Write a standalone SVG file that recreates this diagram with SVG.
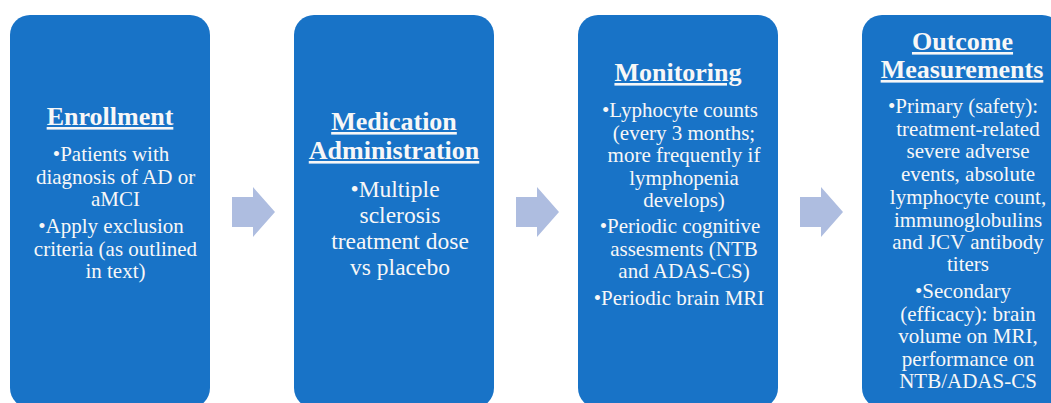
<svg xmlns="http://www.w3.org/2000/svg" width="1051" height="403" viewBox="0 0 1051 403">
<style>
.box{fill:#1873C7}
.arr{fill:#AEBDE0}
text{font-family:"Liberation Serif","Times New Roman",serif;fill:#F7F7F7;text-anchor:middle}
.t{font-weight:bold;font-size:26px;text-decoration:underline}
.b{font-size:21px}
.b2{font-size:23.5px}
</style>
<rect width="1051" height="403" fill="#FFFFFF"/>
<g id="connectors">
<path class="arr" d="M232,197 L253,197 L253,187 L275,212 L253,237 L253,227 L232,227 Z"/>
<path class="arr" d="M516,197 L537,197 L537,187 L559,212 L537,237 L537,227 L516,227 Z"/>
<path class="arr" d="M800,197 L821,197 L821,187 L843,212 L821,237 L821,227 L800,227 Z"/>
</g>
<g id="enrollment">
<rect class="box" x="10" y="15" width="200" height="393" rx="20" ry="20"/>
<text class="t" x="110" y="125">Enrollment</text>
<text class="b" x="111" y="161">•Patients with</text>
<text class="b" x="115.5" y="183.5">diagnosis of AD or</text>
<text class="b" x="115.5" y="205.5">aMCI</text>
<text class="b" x="111" y="233">•Apply exclusion</text>
<text class="b" x="115.5" y="255.5">criteria (as outlined</text>
<text class="b" x="115.5" y="278">in text)</text>
</g>
<g id="medication">
<rect class="box" x="294" y="15" width="200" height="393" rx="20" ry="20"/>
<text class="t" x="394" y="130">Medication</text>
<text class="t" x="394" y="159">Administration</text>
<text class="b2" x="395" y="197">•Multiple</text>
<text class="b2" x="400" y="223">sclerosis</text>
<text class="b2" x="400" y="249">treatment dose</text>
<text class="b2" x="400" y="275">vs placebo</text>
</g>
<g id="monitoring">
<rect class="box" x="578" y="15" width="200" height="393" rx="20" ry="20"/>
<text class="t" x="678" y="81">Monitoring</text>
<text class="b" x="680" y="117">•Lyphocyte counts</text>
<text class="b" x="684" y="139.5">(every 3 months;</text>
<text class="b" x="684" y="162">more frequently if</text>
<text class="b" x="684" y="184.5">lymphopenia</text>
<text class="b" x="684" y="207">develops)</text>
<text class="b" x="680" y="233">•Periodic cognitive</text>
<text class="b" x="684" y="256">assesments (NTB</text>
<text class="b" x="684" y="278">and ADAS-CS)</text>
<text class="b" x="679" y="305">•Periodic brain MRI</text>
</g>
<g id="outcome">
<rect class="box" x="862" y="15" width="200" height="393" rx="20" ry="20"/>
<text class="t" x="962.5" y="50">Outcome</text>
<text class="t" x="962" y="78">Measurements</text>
<text class="b" x="963" y="113">•Primary (safety):</text>
<text class="b" x="968" y="135.5">treatment-related</text>
<text class="b" x="968" y="158">severe adverse</text>
<text class="b" x="968" y="181">events, absolute</text>
<text class="b" x="968" y="203.5">lymphocyte count,</text>
<text class="b" x="968" y="226.5">immunoglobulins</text>
<text class="b" x="968" y="248.5">and JCV antibody</text>
<text class="b" x="968" y="271">titers</text>
<text class="b" x="963" y="298">•Secondary</text>
<text class="b" x="968" y="320.5">(efficacy): brain</text>
<text class="b" x="968" y="343">volume on MRI,</text>
<text class="b" x="968" y="366">performance on</text>
<text class="b" x="968" y="388">NTB/ADAS-CS</text>
</g>
</svg>
